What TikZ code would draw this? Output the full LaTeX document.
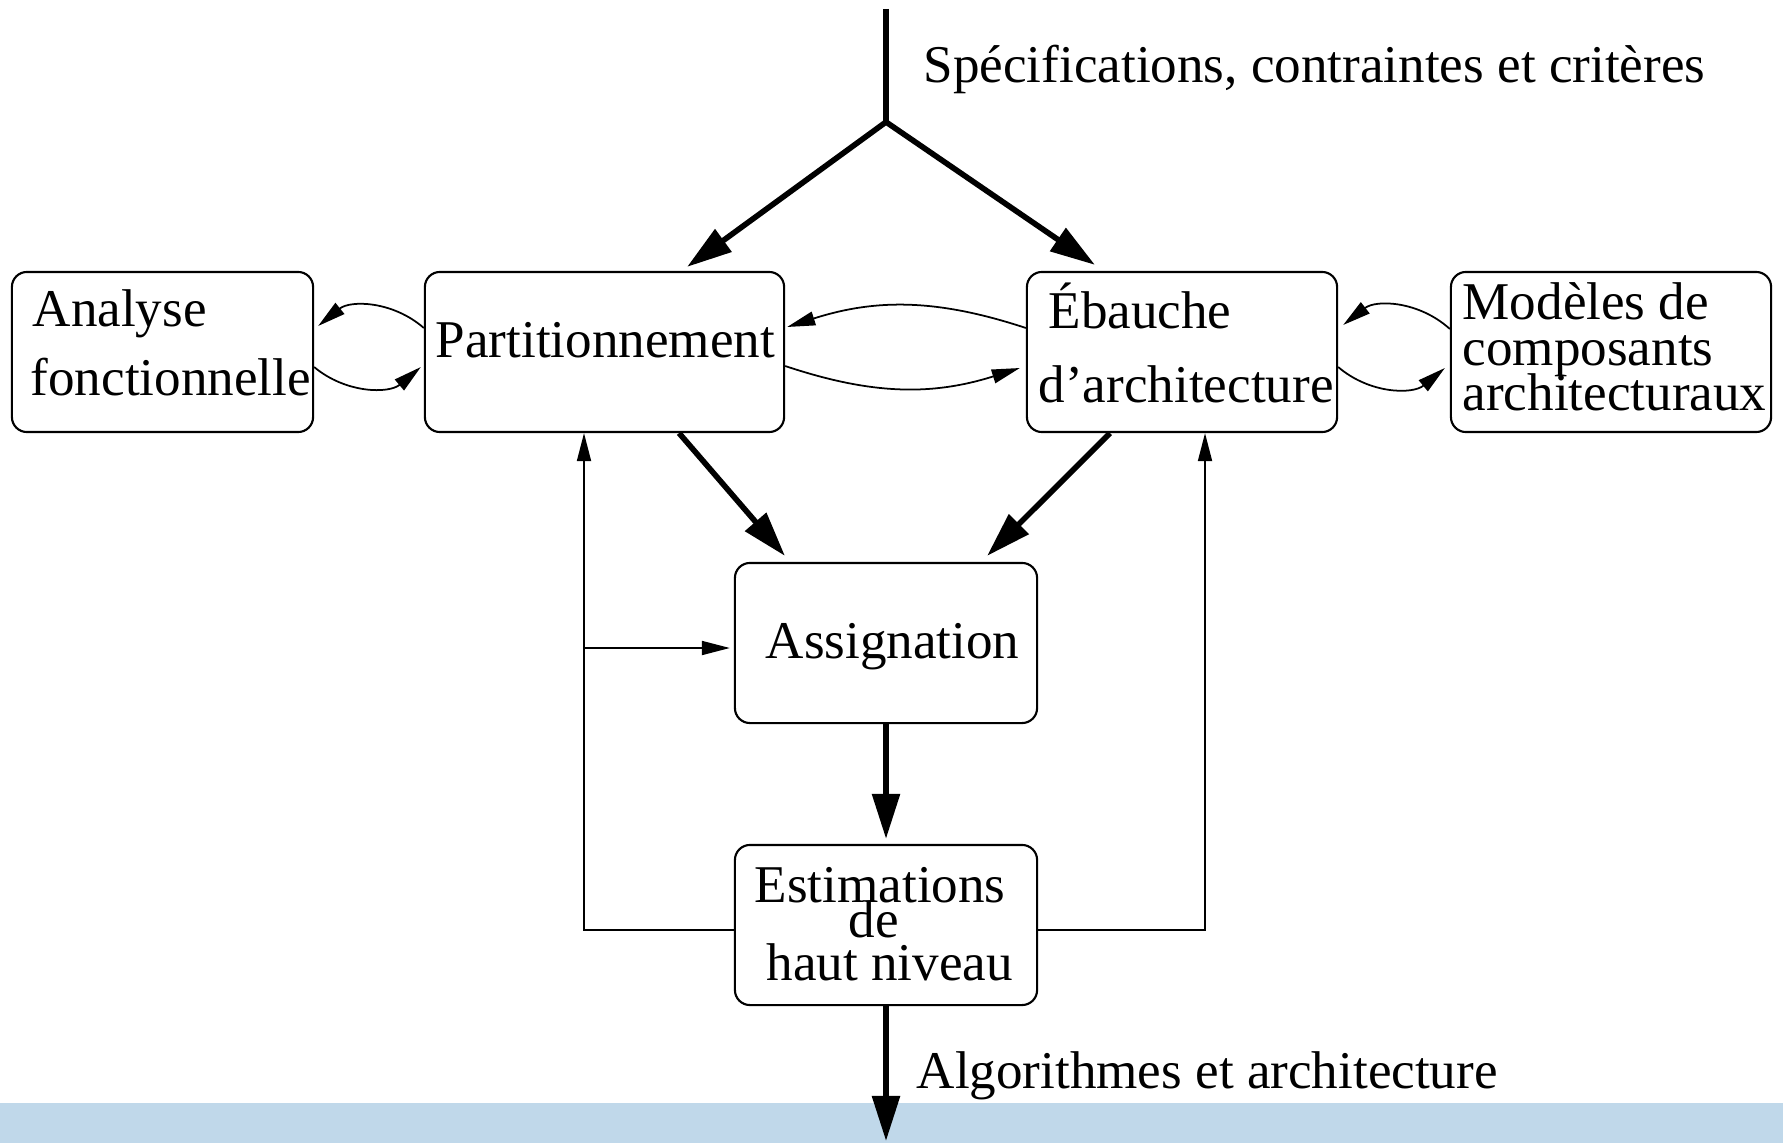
\documentclass[tikz,border=0pt]{standalone}
\usepackage{fontspec}
\setmainfont{Liberation Serif}
\usetikzlibrary{arrows.meta}
\definecolor{bandblue}{RGB}{192,216,234}
\begin{document}
\begin{tikzpicture}[x=0.01cm,y=-0.01cm,
  box/.style={draw,line width=0.6pt,rounded corners=0.15cm,inner sep=0pt,
    minimum height=1.60cm},
  txt/.style={anchor=base west,inner sep=0pt,font=\fontsize{15.1pt}{18pt}\selectfont},
  thick arrow/.style={line width=1.6pt,-{Triangle[length=0.45cm,width=0.27cm]}},
  thin arrow/.style={line width=0.5pt,-{Triangle[length=0.28cm,width=0.14cm]}},
  thin line/.style={line width=0.5pt}]
\useasboundingbox (0,0) rectangle (1783,1143);

% output band
\fill[bandblue] (0,1103) rectangle (1783,1143);

% boxes
\node[box,minimum width=3.01cm] (ana)   at (162.5,352) {};
\node[box,minimum width=3.59cm] (part)  at (604.5,352) {};
\node[box,minimum width=3.10cm] (eb)    at (1182,352)  {};
\node[box,minimum width=3.20cm] (mod)   at (1611,352)  {};
\node[box,minimum width=3.02cm] (assig) at (886,643)   {};
\node[box,minimum width=3.02cm] (est)   at (886,925)   {};

% box texts
\node[txt] (ana-a)   at (32,327)   {Analyse};
\node[txt] (ana-b)   at (30,395)   {fonctionnelle};
\node[txt] (part-a)  at (435,357)  {Partitionnement};
\node[txt] (eb-a)    at (1048,328) {Ébauche};
\node[txt] (eb-b)    at (1038,402) {d’architecture};
\node[txt] (mod-a)   at (1462,320) {Modèles de};
\node[txt] (mod-b)   at (1462,365) {composants};
\node[txt] (mod-c)   at (1462,410) {architecturaux};
\node[txt] (assig-a) at (765,658)  {Assignation};
\node[txt] (est-a)   at (754,902)  {Estimations};
\node[txt] (est-b)   at (848,937)  {de};
\node[txt] (est-c)   at (766,980)  {haut niveau};

% flow labels
\node[txt] (spec) at (923,83)   {Spécifications, contraintes et critères};
\node[txt] (algo) at (916,1088) {Algorithmes et architecture};

% input fork
\coordinate (in)   at (886,9);
\coordinate (fork) at (886,122);
\draw[line width=1.6pt] (in) -- (fork);
\draw[thick arrow] (fork) -- ([xshift=0.825cm,yshift=0.04cm]part.north);
\draw[thick arrow] (fork) -- ([xshift=-0.87cm,yshift=0.06cm]eb.north);

% main flow
\draw[thick arrow] ([xshift=0.745cm]part.south) -- ([xshift=-1.01cm,yshift=0.06cm]assig.north);
\draw[thick arrow] ([xshift=-0.72cm]eb.south) -- ([xshift=1.01cm,yshift=0.06cm]assig.north);
\draw[thick arrow] (assig.south) -- ([yshift=0.05cm]est.north);
\coordinate (out) at (886,1141);
\draw[thick arrow] (est.south) -- (out);

% feedback loops
\coordinate (fbL) at (584,930);
\coordinate (fbR) at (1205,930);
\draw[thin arrow] ([yshift=-0.05cm]est.west) -- (fbL) -- (fbL |- part.south);
\draw[thin arrow] ([yshift=-0.05cm]fbL |- assig.west) -- ([xshift=-0.04cm,yshift=-0.05cm]assig.west);
\draw[thin arrow] ([yshift=-0.05cm]est.east) -- (fbR) -- (fbR |- eb.south);

% exchanges between neighbouring boxes
\draw[thin arrow] ([yshift=0.24cm]part.west) to[bend right=40] ([xshift=0.04cm,yshift=0.26cm]ana.east);
\draw[thin arrow] ([yshift=-0.15cm]ana.east) to[bend right=40] ([xshift=-0.03cm,yshift=-0.15cm]part.west);
\draw[thin arrow] ([yshift=0.24cm]eb.west) to[bend right=18] ([xshift=0.02cm,yshift=0.25cm]part.east);
\draw[thin arrow] ([yshift=-0.14cm]part.east) to[bend right=18] ([xshift=-0.06cm,yshift=-0.16cm]eb.west);
\draw[thin arrow] ([yshift=0.23cm]mod.west) to[bend right=40] ([xshift=0.05cm,yshift=0.27cm]eb.east);
\draw[thin arrow] ([yshift=-0.15cm]eb.east) to[bend right=40] ([xshift=-0.05cm,yshift=-0.16cm]mod.west);
\end{tikzpicture}
\end{document}
